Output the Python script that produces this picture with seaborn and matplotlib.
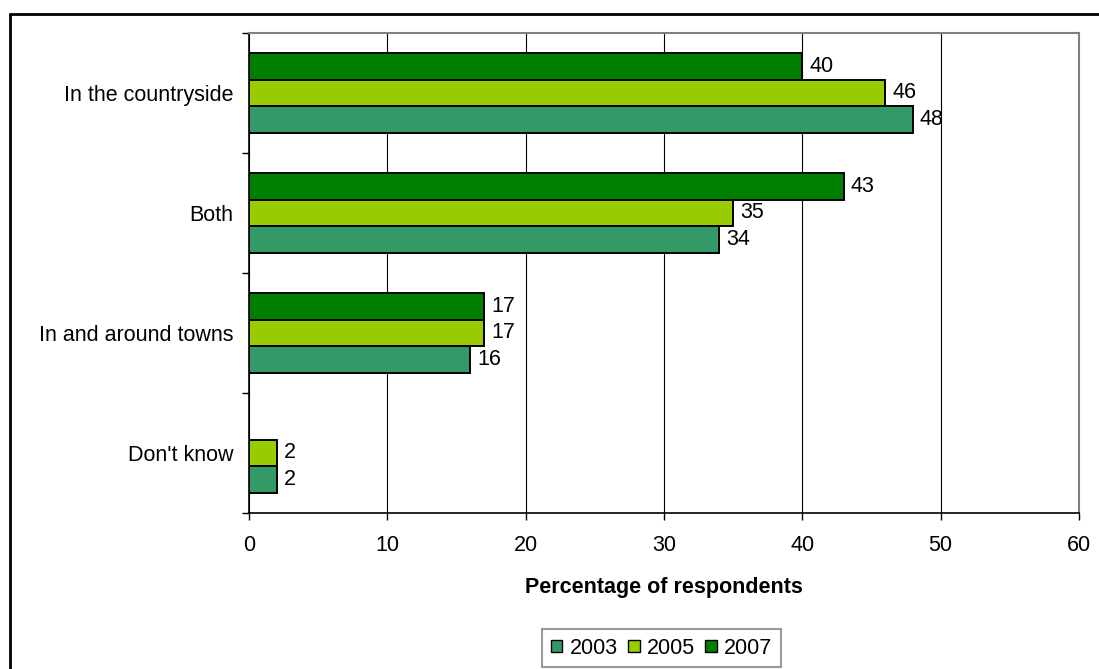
import numpy as np
import pandas as pd
import matplotlib
matplotlib.use("Agg")
import matplotlib.pyplot as plt
from matplotlib.patches import Patch
from matplotlib.lines import Line2D
import seaborn as sns

# Survey data: where respondents would prefer new development
categories = ["In the countryside", "Both", "In and around towns", "Don't know"]
years = ["2003", "2005", "2007"]
values_2003 = [48, 34, 16, 2]
values_2005 = [46, 35, 17, 2]
values_2007 = [40, 43, 17, np.nan]
colors = {"2003": "#339966", "2005": "#99CC00", "2007": "#008000"}
x_ticks = [0, 10, 20, 30, 40, 50, 60]
x_label = "Percentage of respondents"

rows = []
for year, vals in zip(years, [values_2003, values_2005, values_2007]):
    for cat, v in zip(categories, vals):
        if not np.isnan(v):
            rows.append({"category": cat, "year": year, "value": v})
df = pd.DataFrame(rows)

sns.set_style("white")
plt.rcParams["font.family"] = ["Liberation Sans", "DejaVu Sans"]
plt.rcParams["text.color"] = "black"
plt.rcParams["xtick.color"] = "black"
plt.rcParams["ytick.color"] = "black"
plt.rcParams["axes.labelcolor"] = "black"
FS = 15.5

fig = plt.figure(figsize=(10.99, 6.69), dpi=100)
ax = fig.add_axes([249 / 1099, 1 - 513 / 669, 830 / 1099, 480 / 669])

hue_order = ["2007", "2005", "2003"]  # top-to-bottom within each group
sns.barplot(data=df, y="category", x="value", hue="year", order=categories,
            hue_order=hue_order, palette=colors, orient="h", width=2 / 3,
            saturation=1, edgecolor="black", linewidth=1.4, legend=False,
            ax=ax, zorder=3)

for cont in ax.containers:
    ax.bar_label(cont, fmt="{:g}", padding=5, fontsize=FS, color="black")

ax.set_xlim(0, 60)
ax.set_ylim(len(categories) - 0.5, -0.5)
ax.set_xticks(x_ticks)
ax.set_xticklabels([str(t) for t in x_ticks], fontsize=FS)
ax.set_yticks(range(len(categories)))
ax.set_yticklabels(categories, fontsize=FS)
ax.set_yticks(np.arange(-0.5, len(categories), 1.0), minor=True)
ax.tick_params(axis="y", which="major", length=0, pad=11.5)
ax.tick_params(axis="y", which="minor", length=5, width=1, color="black",
               direction="out", left=True)
ax.tick_params(axis="x", which="major", length=5, width=1, color="black",
               direction="out", bottom=True, pad=11)
ax.set_ylabel("")
ax.set_xlabel(x_label, fontsize=FS, fontweight="bold", labelpad=15)

ax.set_axisbelow(True)
ax.xaxis.grid(True, color="black", linewidth=0.8)
ax.yaxis.grid(False)
for side in ["left", "bottom"]:
    ax.spines[side].set_color("black")
    ax.spines[side].set_linewidth(1.2)
for side in ["top", "right"]:
    ax.spines[side].set_visible(True)
    ax.spines[side].set_color("#808080")
    ax.spines[side].set_linewidth(1.5)

handles = [Patch(facecolor=colors[y], edgecolor="black", linewidth=1.0, label=y)
           for y in years]
leg = fig.legend(handles=handles, ncol=3, loc="upper left",
                 bbox_to_anchor=(542 / 1099, 1 - 629 / 669),
                 frameon=True, fancybox=False, fontsize=FS,
                 handlelength=0.55, handleheight=0.55, handletextpad=0.35,
                 columnspacing=0.45, borderpad=0.4, borderaxespad=0)
leg.get_frame().set_edgecolor("#808080")
leg.get_frame().set_linewidth(1.5)

# Outer chart frame
fx = 9.5 / 1099
fy = 1 - 14 / 669
fig.add_artist(Line2D([fx, fx], [0, fy], transform=fig.transFigure,
                      color="black", linewidth=2))
fig.add_artist(Line2D([fx, 1], [fy, fy], transform=fig.transFigure,
                      color="black", linewidth=2))

fig.savefig("out.png", dpi=100)
